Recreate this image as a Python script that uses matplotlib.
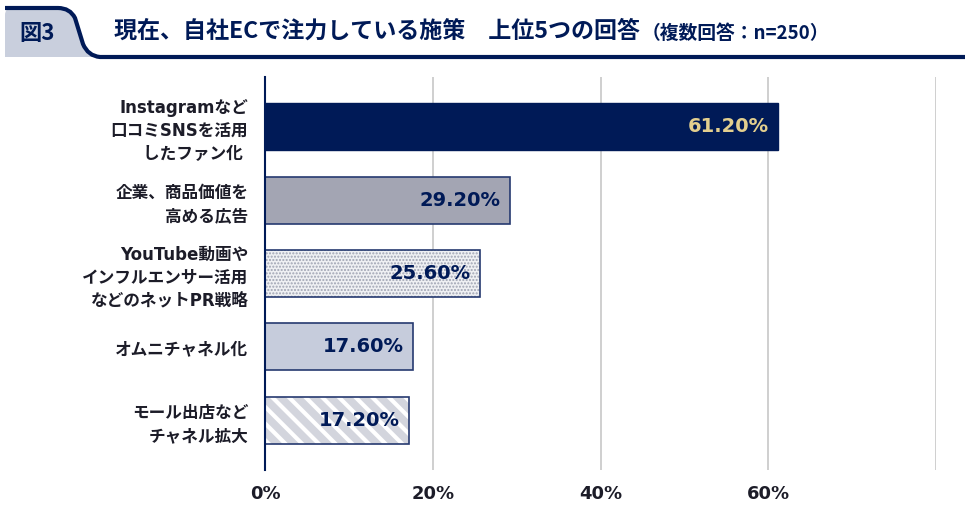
import numpy as np
import matplotlib
matplotlib.use('Agg')
import matplotlib.pyplot as plt
import matplotlib.transforms as mtrans
from matplotlib.path import Path
from matplotlib.patches import PathPatch

plt.rcParams['font.family'] = ['DejaVu Sans', 'Noto Sans CJK JP']

# データ
categories = ['Instagramなど\n口コミSNSを活用\nしたファン化 ',
              '企業、商品価値を\n高める広告',
              'YouTube動画や\nインフルエンサー活用\nなどのネットPR戦略',
              'オムニチャネル化',
              'モール出店など\nチャネル拡大']
values = [61.2, 29.2, 25.6, 17.6, 17.2]
xticks = [0, 20, 40, 60]
xtick_labels = ['0%', '20%', '40%', '60%']

navy = '#001a57'
text_dark = '#1c1c28'

fig = plt.figure(figsize=(9.72, 5.08), dpi=100)

# ヘッダー部分（ピクセル座標のオーバーレイ）
hdr = fig.add_axes([0, 0, 1, 1])
hdr.set_xlim(0, 972)
hdr.set_ylim(508, 0)
hdr.axis('off')

tab_verts = [(5, 57), (5, 15), (5, 8), (12, 8), (58, 8), (70, 8), (75, 18),
             (83, 44), (88, 56), (100, 57), (5, 57)]
tab_codes = [Path.MOVETO, Path.LINETO, Path.CURVE3, Path.CURVE3, Path.LINETO,
             Path.CURVE3, Path.CURVE3, Path.LINETO, Path.CURVE3, Path.CURVE3,
             Path.CLOSEPOLY]
hdr.add_patch(PathPatch(Path(tab_verts, tab_codes), facecolor='#c9cfdd',
                        edgecolor='none'))
line_verts = [(5, 8), (58, 8), (70, 8), (75, 18), (83, 44), (88, 56),
              (100, 57), (965, 57)]
line_codes = [Path.MOVETO, Path.LINETO, Path.CURVE3, Path.CURVE3, Path.LINETO,
              Path.CURVE3, Path.CURVE3, Path.LINETO]
hdr.add_patch(PathPatch(Path(line_verts, line_codes), facecolor='none',
                        edgecolor=navy, linewidth=3, capstyle='butt'))

hdr.text(19, 34, '図3', fontsize=16, fontweight='bold', color=navy,
         va='center', ha='left', family=['Noto Sans CJK JP'])
t = hdr.text(114, 31, '現在、自社ECで注力している施策　上位5つの回答',
             fontsize=16.6, fontweight='bold', color=navy, va='center', ha='left',
             family=['Noto Sans CJK JP'])
fig.canvas.draw()
x_end = t.get_window_extent().x1
hdr.text(x_end + 2, 33, '（複数回答：n=250）', fontsize=13.5, fontweight='bold',
         color=navy, va='center', ha='left', family=['Noto Sans CJK JP'],
         transform=mtrans.blended_transform_factory(mtrans.IdentityTransform(),
                                                    hdr.transData))

# グラフ本体
ax = fig.add_axes([265 / 972, 1 - 470 / 508, (936 - 265) / 972, 393 / 508])
y = np.arange(len(categories))
h = 0.64
edge = '#263a70'

# 1: 濃紺
ax.barh(y[0], values[0], height=h, color=navy, edgecolor=navy, linewidth=1, zorder=3)
# 2: グレー
ax.barh(y[1], values[1], height=h, color='#a3a5b3', edgecolor=edge, linewidth=1.2, zorder=3)
# 3: ドット
ax.barh(y[2], values[2], height=h, color='#eff0f3', edgecolor='#9fa3b2',
        linewidth=0, hatch='.....', zorder=3)
ax.barh(y[2], values[2], height=h, fill=False, edgecolor=edge, linewidth=1.2, zorder=4)
# 4: 淡い青
ax.barh(y[3], values[3], height=h, color='#c6ccdc', edgecolor=edge, linewidth=1.2, zorder=3)
# 5: 斜線
stripe = ax.barh(y[4], values[4], height=h, color='white', edgecolor='#d3d5dd',
                 linewidth=0, hatch='\\\\', zorder=3)
for p in stripe:
    if hasattr(p, 'set_hatch_linewidth'):
        p.set_hatch_linewidth(5.5)
ax.barh(y[4], values[4], height=h, fill=False, edgecolor=edge, linewidth=1.2, zorder=4)

# 数値ラベル
for i, v in enumerate(values):
    col = '#e3cf8e' if i == 0 else navy
    ax.text(v - 1.1, y[i], f'{v:.2f}%', ha='right', va='center', fontsize=14,
            fontweight='bold', color=col, zorder=5)

ax.set_xlim(0, 80)
ax.set_ylim(len(categories) - 1 + 0.68, -0.68)
ax.set_xticks(xticks)
ax.set_xticklabels(xtick_labels, fontsize=13, fontweight='bold', color=text_dark)
ax.set_yticks(y)
ax.set_yticklabels(categories, fontsize=12, fontweight='bold', color=text_dark,
                   linespacing=1.35)
ax.tick_params(axis='both', length=0)
ax.tick_params(axis='y', pad=12)
ax.tick_params(axis='x', pad=11)
for x in [20, 40, 60, 80]:
    ax.axvline(x, color='#cccccc', linewidth=1.3, zorder=1)
for s in ['top', 'right', 'bottom']:
    ax.spines[s].set_visible(False)
ax.spines['left'].set_color(navy)
ax.spines['left'].set_linewidth(1.5)
ax.spines['left'].set_zorder(6)
ax.patch.set_alpha(0)

fig.savefig('out.png', dpi=100)
